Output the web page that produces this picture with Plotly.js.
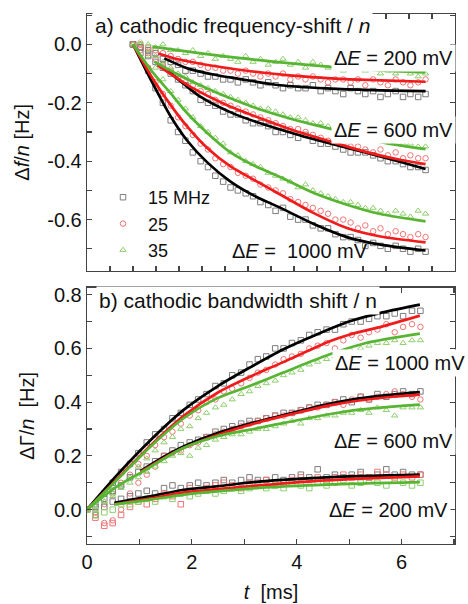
<!DOCTYPE html>
<html>
<head>
<meta charset="utf-8">
<script src="https://cdn.plot.ly/plotly-3.0.1.min.js"></script>
<style>
  body { margin: 0; background: #fff; }
  #chart { width: 468px; height: 604px; }
</style>
</head>
<body>
<div id="chart"></div>
<script>
// sample times (ms), shared by all measured series
var tData = [0, 0.16, 0.33, 0.49, 0.65, 0.82, 0.98, 1.14, 1.3, 1.47, 1.63, 1.79, 1.96, 2.12, 2.28, 2.45, 2.61, 2.77, 2.94, 3.1,
             3.26, 3.42, 3.59, 3.75, 3.91, 4.08, 4.24, 4.4, 4.57, 4.73, 4.89, 5.05, 5.22, 5.38, 5.54, 5.71, 5.87, 6.03, 6.2, 6.36];

// a) frequency shift / n [Hz], measured points
var dfBlack1000 = [0, -0.03, -0.09, -0.15, -0.2, -0.26, -0.3, -0.33, -0.37, -0.4, -0.42, -0.45, -0.47, -0.49, -0.5, -0.51, -0.52, -0.54, -0.55, -0.57,
                   -0.56, -0.59, -0.6, -0.6, -0.62, -0.63, -0.63, -0.65, -0.66, -0.66, -0.67, -0.69, -0.68, -0.69, -0.7, -0.69, -0.7, -0.71, -0.7, -0.71];
var dfRed1000 = [0, -0.02, -0.08, -0.13, -0.17, -0.21, -0.25, -0.28, -0.31, -0.34, -0.36, -0.39, -0.41, -0.42, -0.44, -0.45, -0.46, -0.48, -0.49, -0.5,
                 -0.51, -0.53, -0.54, -0.55, -0.56, -0.57, -0.58, -0.6, -0.6, -0.61, -0.63, -0.62, -0.64, -0.63, -0.65, -0.64, -0.65, -0.66, -0.65, -0.66];
var dfGreen1000 = [0, 0, -0.04, -0.08, -0.12, -0.16, -0.19, -0.22, -0.25, -0.28, -0.3, -0.32, -0.34, -0.37, -0.38, -0.4, -0.41, -0.42, -0.44, -0.45,
                   -0.46, -0.47, -0.49, -0.48, -0.5, -0.51, -0.52, -0.53, -0.54, -0.54, -0.55, -0.56, -0.56, -0.57, -0.58, -0.57, -0.58, -0.59, -0.57, -0.58];
var dfBlack600 = [0, -0.01, -0.04, -0.06, -0.08, -0.1, -0.12, -0.14, -0.16, -0.19, -0.2, -0.21, -0.23, -0.24, -0.24, -0.26, -0.27, -0.27, -0.28, -0.3,
                  -0.3, -0.31, -0.32, -0.31, -0.33, -0.34, -0.34, -0.35, -0.36, -0.37, -0.37, -0.37, -0.38, -0.39, -0.4, -0.4, -0.41, -0.42, -0.42, -0.43];
var dfRed600 = [0, -0.01, -0.03, -0.05, -0.07, -0.09, -0.11, -0.13, -0.14, -0.16, -0.17, -0.19, -0.2, -0.21, -0.22, -0.23, -0.24, -0.25, -0.26, -0.27,
                -0.28, -0.29, -0.29, -0.3, -0.31, -0.32, -0.33, -0.33, -0.34, -0.35, -0.35, -0.36, -0.37, -0.36, -0.38, -0.37, -0.39, -0.38, -0.39, -0.39];
var dfGreen600 = [0, 0, -0.02, -0.04, -0.06, -0.08, -0.1, -0.11, -0.13, -0.14, -0.15, -0.16, -0.17, -0.18, -0.19, -0.2, -0.21, -0.22, -0.22, -0.23,
                  -0.24, -0.25, -0.25, -0.26, -0.27, -0.27, -0.28, -0.29, -0.29, -0.3, -0.31, -0.31, -0.32, -0.32, -0.33, -0.33, -0.34, -0.34, -0.35, -0.35];
var dfBlack200 = [0, -0.01, -0.02, -0.03, -0.05, -0.06, -0.07, -0.09, -0.09, -0.1, -0.11, -0.11, -0.12, -0.12, -0.13, -0.12, -0.13, -0.14, -0.13, -0.14,
                  -0.15, -0.14, -0.15, -0.15, -0.14, -0.16, -0.15, -0.16, -0.17, -0.15, -0.16, -0.17, -0.16, -0.18, -0.17, -0.16, -0.18, -0.17, -0.18, -0.17];
var dfRed200 = [0, 0, -0.01, -0.02, -0.03, -0.04, -0.05, -0.06, -0.06, -0.07, -0.08, -0.08, -0.09, -0.09, -0.1, -0.09, -0.1, -0.11, -0.1, -0.11,
                -0.1, -0.12, -0.11, -0.12, -0.11, -0.12, -0.13, -0.12, -0.12, -0.13, -0.12, -0.14, -0.12, -0.13, -0.14, -0.12, -0.13, -0.14, -0.13, -0.12];
var dfGreen200 = [0, 0.01, 0, -0.01, 0, -0.02, -0.02, -0.03, -0.02, -0.04, -0.03, -0.05, -0.04, -0.05, -0.06, -0.04, -0.06, -0.05, -0.07, -0.06,
                  -0.05, -0.07, -0.06, -0.08, -0.06, -0.07, -0.08, -0.07, -0.09, -0.08, -0.07, -0.09, -0.08, -0.1, -0.09, -0.1, -0.09, -0.1, -0.11, -0.1];

// a) fitted curves
var fitA1000T = [0, 0.4, 0.82, 1.18, 1.62, 2.12, 2.63, 3.21, 3.93, 4.65, 5.38, 6.36];
var fitABlack1000 = [0, -0.125, -0.247, -0.33, -0.405, -0.47, -0.518, -0.56, -0.615, -0.66, -0.686, -0.706];
var fitARed1000 = [0, -0.11, -0.208, -0.282, -0.356, -0.418, -0.464, -0.515, -0.578, -0.629, -0.658, -0.678];
var fitAGreen1000 = [0, -0.09, -0.168, -0.236, -0.304, -0.37, -0.415, -0.455, -0.509, -0.549, -0.581, -0.606];
var fitABlack600T = [0.75, 1.1, 1.47, 2.2, 2.92, 3.64, 4.37, 5.09, 5.8, 6.36];
var fitABlack600 = [-0.09, -0.135, -0.18, -0.238, -0.278, -0.312, -0.343, -0.372, -0.402, -0.427];
var fitARed600T = [0.53, 0.9, 1.3, 2.0, 2.8, 3.5, 4.3, 5.1, 5.8, 6.36];
var fitARed600 = [-0.071, -0.11, -0.15, -0.205, -0.255, -0.295, -0.333, -0.37, -0.395, -0.41];
var fitAGreen600T = [0.46, 1.0, 1.6, 2.2, 2.8, 3.5, 4.3, 5.4, 6.36];
var fitAGreen600 = [-0.059, -0.105, -0.15, -0.19, -0.225, -0.258, -0.29, -0.335, -0.359];
var fitABlack200T = [0.68, 1.2, 1.8, 2.3, 3.2, 4.2, 5.2, 6.36];
var fitABlack200 = [-0.048, -0.083, -0.105, -0.118, -0.14, -0.151, -0.157, -0.16];
var fitARed200T = [0.55, 1.0, 1.8, 2.6, 3.4, 4.4, 5.4, 6.36];
var fitARed200 = [-0.031, -0.052, -0.075, -0.093, -0.106, -0.117, -0.123, -0.128];
var fitAGreen200T = [0.42, 1.2, 2.0, 2.8, 3.5, 4.3, 5.3, 6.36];
var fitAGreen200 = [-0.008, -0.025, -0.041, -0.055, -0.066, -0.077, -0.088, -0.096];

// b) bandwidth shift / n [Hz], measured points
var dgBlack1000 = [0, 0.02, 0.06, 0.1, 0.14, 0.17, 0.21, 0.25, 0.28, 0.3, 0.34, 0.36, 0.39, 0.41, 0.43, 0.46, 0.47, 0.5, 0.51, 0.54,
                   0.56, 0.57, 0.6, 0.6, 0.62, 0.63, 0.65, 0.66, 0.67, 0.67, 0.69, 0.7, 0.7, 0.71, 0.72, 0.72, 0.73, 0.72, 0.74, 0.74];
var dgRed1000 = [0, -0.01, 0.02, 0.06, 0.1, 0.13, 0.17, 0.2, 0.24, 0.27, 0.29, 0.32, 0.35, 0.37, 0.4, 0.41, 0.44, 0.45, 0.47, 0.49,
                 0.51, 0.52, 0.54, 0.56, 0.57, 0.58, 0.6, 0.61, 0.62, 0.6, 0.63, 0.65, 0.64, 0.66, 0.67, 0.69, 0.66, 0.68, 0.69, 0.68];
var dgGreen1000 = [0, 0, 0.03, 0.06, 0.09, 0.12, 0.16, 0.19, 0.22, 0.25, 0.27, 0.3, 0.31, 0.34, 0.36, 0.38, 0.39, 0.41, 0.43, 0.44,
                   0.46, 0.47, 0.48, 0.5, 0.51, 0.52, 0.54, 0.55, 0.56, 0.57, 0.58, 0.59, 0.6, 0.61, 0.62, 0.62, 0.63, 0.62, 0.63, 0.63];
var dgBlack600 = [0, 0.01, 0.04, 0.07, 0.09, 0.12, 0.14, 0.16, 0.18, 0.2, 0.22, 0.24, 0.25, 0.26, 0.27, 0.29, 0.3, 0.31, 0.32, 0.33,
                  0.33, 0.34, 0.35, 0.36, 0.36, 0.37, 0.38, 0.39, 0.39, 0.4, 0.41, 0.4, 0.42, 0.41, 0.43, 0.42, 0.43, 0.44, 0.43, 0.44];
var dgRed600 = [0, -0.02, -0.05, -0.04, 0, 0.06, 0.1, 0.13, 0.16, 0.2, 0.21, 0.22, 0.24, 0.25, 0.27, 0.28, 0.29, 0.3, 0.31, 0.32,
                0.33, 0.34, 0.35, 0.35, 0.36, 0.37, 0.38, 0.38, 0.39, 0.4, 0.39, 0.41, 0.42, 0.41, 0.42, 0.43, 0.44, 0.43, 0.42, 0.41];
var dgGreen600 = [0, 0.01, 0.03, 0.05, 0.08, 0.1, 0.12, 0.14, 0.16, 0.18, 0.2, 0.21, 0.2, 0.23, 0.24, 0.26, 0.27, 0.28, 0.28, 0.29,
                  0.3, 0.3, 0.31, 0.32, 0.33, 0.32, 0.34, 0.34, 0.35, 0.35, 0.36, 0.36, 0.37, 0.36, 0.38, 0.37, 0.35, 0.38, 0.38, 0.38];
var dgBlack200 = [0, -0.02, 0.01, 0.03, 0.04, 0.05, 0.06, 0.07, 0.06, 0.08, 0.09, 0.08, 0.09, 0.1, 0.09, 0.1, 0.11, 0.1, 0.11, 0.12,
                  0.11, 0.11, 0.12, 0.11, 0.12, 0.13, 0.12, 0.15, 0.12, 0.13, 0.12, 0.13, 0.14, 0.12, 0.13, 0.15, 0.13, 0.14, 0.13, 0.13];
var dgRed200 = [0, -0.03, -0.06, -0.05, -0.02, 0.01, 0.03, 0.02, 0.04, 0.06, 0.05, 0.02, 0.08, 0.07, 0.08, 0.09, 0.1, 0.09, 0.08, 0.1,
                0.1, 0.11, 0.1, 0.1, 0.11, 0.12, 0.11, 0.12, 0.1, 0.12, 0.13, 0.12, 0.13, 0.12, 0.14, 0.13, 0.12, 0.13, 0.12, 0.13];
var dgGreen200 = [0, -0.02, -0.01, 0, 0.02, 0.02, 0.03, 0.04, 0.03, 0.05, 0.04, 0.06, 0.05, 0.06, 0.07, 0.06, 0.07, 0.08, 0.07, 0.08,
                  0.09, 0.08, 0.09, 0.08, 0.1, 0.09, 0.08, 0.1, 0.09, 0.1, 0.11, 0.09, 0.1, 0.11, 0.1, 0.09, 0.11, 0.1, 0.09, 0.1];

// b) fitted curves
var fitB1000T = [0, 0.58, 1.22, 1.85, 2.49, 3.09, 3.73, 4.36, 5.0, 5.64, 6.35];
var fitBBlack1000 = [0, 0.13, 0.26, 0.372, 0.459, 0.527, 0.595, 0.65, 0.7, 0.734, 0.763];
var fitBRed1000T = [0, 0.58, 1.22, 1.85, 2.49, 3.09, 3.73, 4.62, 5.0, 5.64, 6.35];
var fitBRed1000 = [0, 0.115, 0.24, 0.35, 0.435, 0.493, 0.548, 0.626, 0.651, 0.682, 0.722];
var fitBGreen1000T = [0, 0.58, 1.22, 1.85, 2.49, 3.09, 3.73, 4.62, 5.32, 6.35];
var fitBGreen1000 = [0, 0.112, 0.236, 0.341, 0.415, 0.459, 0.509, 0.577, 0.62, 0.655];
var fitB600T = [1.02, 1.45, 1.85, 2.49, 3.28, 3.92, 4.56, 5.19, 5.83, 6.35];
var fitBBlack600 = [0.143, 0.195, 0.236, 0.285, 0.329, 0.36, 0.391, 0.414, 0.428, 0.437];
var fitBRed600 = [0.14, 0.19, 0.23, 0.278, 0.325, 0.356, 0.385, 0.406, 0.42, 0.428];
var fitBGreen600T = [0, 0.58, 1.02, 1.85, 2.49, 3.28, 3.92, 4.56, 5.19, 6.35];
var fitBGreen600 = [0, 0.087, 0.137, 0.23, 0.273, 0.304, 0.329, 0.353, 0.372, 0.391];
var fitB200T = [0.52, 1.22, 1.85, 2.49, 3.28, 4.56, 6.35];
var fitBBlack200 = [0.025, 0.05, 0.074, 0.087, 0.104, 0.12, 0.13];
var fitBRed200 = [0.02, 0.042, 0.064, 0.076, 0.09, 0.109, 0.124];
var fitBGreen200 = [0.019, 0.037, 0.056, 0.068, 0.081, 0.093, 0.102];

var cGray = '#7d7d7d', cPink = '#f07575', cLight = '#8dcf6c';
var cBlack = '#000000', cRed = '#f01c1c', cGreen = '#58b534';
var font = 'Liberation Sans, Arial, sans-serif';

function dots(y, color, symbol, top, name) {
    return {
        x: tData, y: y, type: 'scatter', mode: 'markers',
        xaxis: top ? 'x2' : 'x', yaxis: top ? 'y2' : 'y',
        name: name || '', showlegend: !!name,
        marker: {symbol: symbol, size: 5.5, color: color, line: {color: color, width: 1}},
        hoverinfo: 'skip'
    };
}

function fit(t, y, color, top) {
    return {
        x: t, y: y, type: 'scatter', mode: 'lines',
        xaxis: top ? 'x2' : 'x', yaxis: top ? 'y2' : 'y',
        showlegend: false,
        line: {color: color, width: 2.7, shape: 'spline', smoothing: 0.8},
        hoverinfo: 'skip'
    };
}

var data = [
    // a) points
    dots(dfBlack1000, cGray, 'square-open', true, '15 MHz'),
    dots(dfRed1000, cPink, 'circle-open', true, '25'),
    dots(dfGreen1000, cLight, 'triangle-up-open', true, '35'),
    dots(dfBlack600, cGray, 'square-open', true),
    dots(dfRed600, cPink, 'circle-open', true),
    dots(dfGreen600, cLight, 'triangle-up-open', true),
    dots(dfBlack200, cGray, 'square-open', true),
    dots(dfRed200, cPink, 'circle-open', true),
    dots(dfGreen200, cLight, 'triangle-up-open', true),
    // a) fits
    fit(fitA1000T, fitABlack1000, cBlack, true),
    fit(fitA1000T, fitARed1000, cRed, true),
    fit(fitA1000T, fitAGreen1000, cGreen, true),
    fit(fitABlack600T, fitABlack600, cBlack, true),
    fit(fitARed600T, fitARed600, cRed, true),
    fit(fitAGreen600T, fitAGreen600, cGreen, true),
    fit(fitABlack200T, fitABlack200, cBlack, true),
    fit(fitARed200T, fitARed200, cRed, true),
    fit(fitAGreen200T, fitAGreen200, cGreen, true),
    // b) points
    dots(dgBlack1000, cGray, 'square-open', false),
    dots(dgRed1000, cPink, 'circle-open', false),
    dots(dgGreen1000, cLight, 'triangle-up-open', false),
    dots(dgBlack600, cGray, 'square-open', false),
    dots(dgRed600, cPink, 'circle-open', false),
    dots(dgGreen600, cLight, 'triangle-up-open', false),
    dots(dgBlack200, cGray, 'square-open', false),
    dots(dgRed200, cPink, 'square-open', false),
    dots(dgGreen200, cLight, 'square-open', false),
    // b) fits
    fit(fitB1000T, fitBBlack1000, cBlack, false),
    fit(fitBRed1000T, fitBRed1000, cRed, false),
    fit(fitBGreen1000T, fitBGreen1000, cGreen, false),
    fit(fitB600T, fitBBlack600, cBlack, false),
    fit(fitB600T, fitBRed600, cRed, false),
    fit(fitBGreen600T, fitBGreen600, cGreen, false),
    fit(fitB200T, fitBBlack200, cBlack, false),
    fit(fitB200T, fitBRed200, cRed, false),
    fit(fitB200T, fitBGreen200, cGreen, false)
];

var frame = {
    showline: true, linecolor: '#444', linewidth: 1.3, mirror: 'ticks',
    ticks: 'inside', ticklen: 5, tickwidth: 1.2, tickcolor: '#444',
    showgrid: false, zeroline: false, fixedrange: true,
    tickfont: {family: font, size: 20, color: '#111'}
};

function axis(extra) {
    return Object.assign({}, frame, extra);
}

// positions of the text boxes, given in pixels of the 468x604 page
function px(x) { return (x - 87) / 368; }
function py(y) { return (544 - y) / 530; }

function label(text, x, y, xanchor, size, bg) {
    return {
        text: text, xref: 'paper', yref: 'paper', x: px(x), y: py(y),
        xanchor: xanchor, yanchor: 'middle', showarrow: false,
        font: {family: font, size: size, color: '#111'},
        bgcolor: bg ? '#ffffff' : 'rgba(0,0,0,0)', borderpad: 2
    };
}

var layout = {
    width: 468,
    height: 604,
    margin: {l: 87, r: 13, t: 14, b: 60},
    paper_bgcolor: '#fff',
    plot_bgcolor: '#fff',
    font: {family: font, size: 20, color: '#111'},
    xaxis: axis({
        anchor: 'y', domain: [0, 1], range: [0, 7.02],
        tickmode: 'array', tickvals: [0, 1, 2, 3, 4, 5, 6, 7], ticktext: ['0', '', '2', '', '4', '', '6', ''],
        title: {text: '<i>t</i>\u00a0 [ms]', font: {family: font, size: 20, color: '#111'}, standoff: 12}
    }),
    yaxis: axis({
        anchor: 'x', domain: [0, 0.4836], range: [-0.128, 0.826],
        tickmode: 'array',
        tickvals: [-0.1, 0, 0.1, 0.2, 0.3, 0.4, 0.5, 0.6, 0.7, 0.8],
        ticktext: ['', '0.0', '', '0.2', '', '0.4', '', '0.6', '', '0.8'],
        title: {text: '\u0394\u0393/<i>n</i>\u00a0 [Hz]', font: {family: font, size: 20, color: '#111'}, standoff: 14}
    }),
    xaxis2: axis({
        anchor: 'y2', domain: [0, 1], range: [-1, 7.0],
        tickmode: 'linear', tick0: 0, dtick: 0.5, showticklabels: false
    }),
    yaxis2: axis({
        anchor: 'x2', domain: [0.5157, 1], range: [-0.775, 0.104],
        tickmode: 'array',
        tickvals: [-0.7, -0.6, -0.5, -0.4, -0.3, -0.2, -0.1, 0, 0.1],
        ticktext: ['', '-0.6', '', '-0.4', '', '-0.2', '', '0.0', ''],
        title: {text: '\u0394<i>f</i>/<i>n</i> [Hz]', font: {family: font, size: 20, color: '#111'}, standoff: 12}
    }),
    showlegend: true,
    legend: {
        x: px(98), y: py(179), xanchor: 'left', yanchor: 'top',
        bgcolor: 'rgba(0,0,0,0)', borderwidth: 0, itemwidth: 40,
        font: {family: font, size: 18, color: '#111'},
        tracegroupgap: 0, itemclick: false, itemdoubleclick: false
    },
    annotations: [
        label('a) cathodic frequency-shift / <i>n</i>', 92, 26, 'left', 21, true),
        label('\u0394<i>E</i> = 200 mV', 456, 58, 'right', 20, true),
        label('\u0394<i>E</i> = 600 mV', 456, 130, 'right', 20, true),
        label('\u0394<i>E</i> =\u00a0 1000 mV', 371, 251, 'right', 20, false),
        label('b) cathodic bandwidth shift / n', 96, 300, 'left', 21, true),
        label('\u0394<i>E</i> = 1000 mV', 468, 363, 'right', 20, true),
        label('\u0394<i>E</i> = 600 mV', 456, 441, 'right', 20, true),
        label('\u0394<i>E</i> = 200 mV', 451, 510, 'right', 20, true)
    ]
};

Plotly.newPlot('chart', data, layout, {displayModeBar: false, staticPlot: true});
</script>
</body>
</html>
